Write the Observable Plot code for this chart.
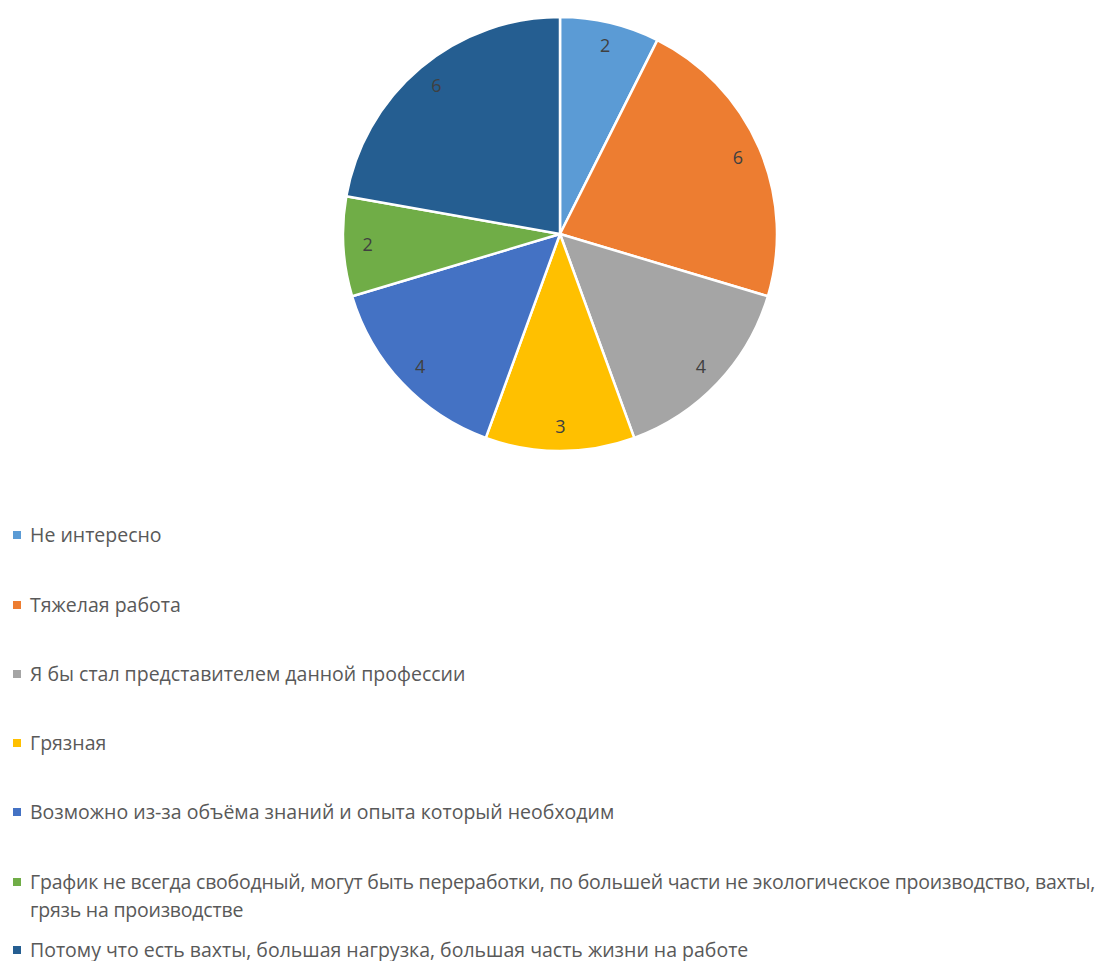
<!DOCTYPE html>
<html>
<head>
<meta charset="utf-8">
<script src="https://cdn.jsdelivr.net/npm/d3@7"></script>
<script src="https://cdn.jsdelivr.net/npm/@observablehq/plot@0.6"></script>
<style>
  html, body { margin: 0; padding: 0; background: #fff; }
  body { width: 1118px; height: 961px; overflow: hidden; font-family: "Open Sans", "Noto Sans", sans-serif; }
  #chart svg { display: block; }
  #legend { position: absolute; left: 0; top: 0; width: 1118px; }
  .item { position: absolute; left: 30px; width: 1086px; font-size: 19.5px; line-height: 28px; color: #595959; }
  .item.tight { letter-spacing: -0.22px; }
  .sw { position: absolute; left: -17px; top: 10px; width: 8px; height: 8px; }
</style>
</head>
<body>
<div id="chart"></div>
<div id="legend"></div>
<script>
const categories = [
  "Не интересно",
  "Тяжелая работа",
  "Я бы стал представителем данной профессии",
  "Грязная",
  "Возможно из-за объёма знаний и опыта который необходим",
  "График не всегда свободный, могут быть переработки, по большей части не экологическое производство, вахты, грязь на производстве",
  "Потому что есть вахты, большая нагрузка, большая часть жизни на работе"
];
const values = [2, 6, 4, 3, 4, 2, 6];
const colors = ["#5b9bd5", "#ed7d31", "#a5a5a5", "#ffc000", "#4472c4", "#70ad47", "#255e91"];
const legendTops = [521, 591, 660, 729, 798, 868, 936];

const data = categories.map((c, i) => ({category: c, value: values[i]}));
const arcs = d3.pie().sort(null).value(d => d.value)(data);
const slices = arcs.map(a => ({
  category: a.data.category,
  value: a.data.value,
  startAngle: a.startAngle,
  endAngle: a.endAngle,
  mid: (a.startAngle + a.endAngle) / 2
}));

const color = Plot.scale({color: {type: "ordinal", domain: categories, range: colors}});
const labelR = 0.89;

function pieMark(index, scales) {
  const cx = scales.x(0), cy = scales.y(0);
  const r = scales.x(1) - scales.x(0);
  const arc = d3.arc().innerRadius(0).outerRadius(r);
  const g = d3.create("svg:g").attr("transform", `translate(${cx},${cy})`);
  g.selectAll("path").data(slices).join("path")
    .attr("d", d => arc(d))
    .attr("fill", d => color.apply(d.category))
    .attr("stroke", "#fff")
    .attr("stroke-width", 2.5)
    .attr("stroke-linejoin", "round");
  return g.node();
}

const plot = Plot.plot({
  width: 1118,
  height: 470,
  margin: 0,
  x: {domain: [-1, 1], range: [343, 777], axis: null},
  y: {domain: [-1, 1], range: [451, 17], axis: null},
  marks: [
    pieMark,
    Plot.text(slices, {
      x: d => labelR * Math.sin(d.mid),
      y: d => labelR * Math.cos(d.mid),
      text: d => String(d.value),
      fill: "#404040",
      fontSize: 18,
      fontFamily: "Open Sans, Noto Sans, sans-serif"
    })
  ]
});
document.getElementById("chart").appendChild(plot);

const legend = d3.select("#legend");
categories.forEach((c, i) => {
  const it = legend.append("div").attr("class", i === 5 ? "item tight" : "item").style("top", legendTops[i] + "px");
  it.append("span").attr("class", "sw").style("background", color.apply(c));
  it.append("span").text(c);
});
</script>
</body>
</html>
